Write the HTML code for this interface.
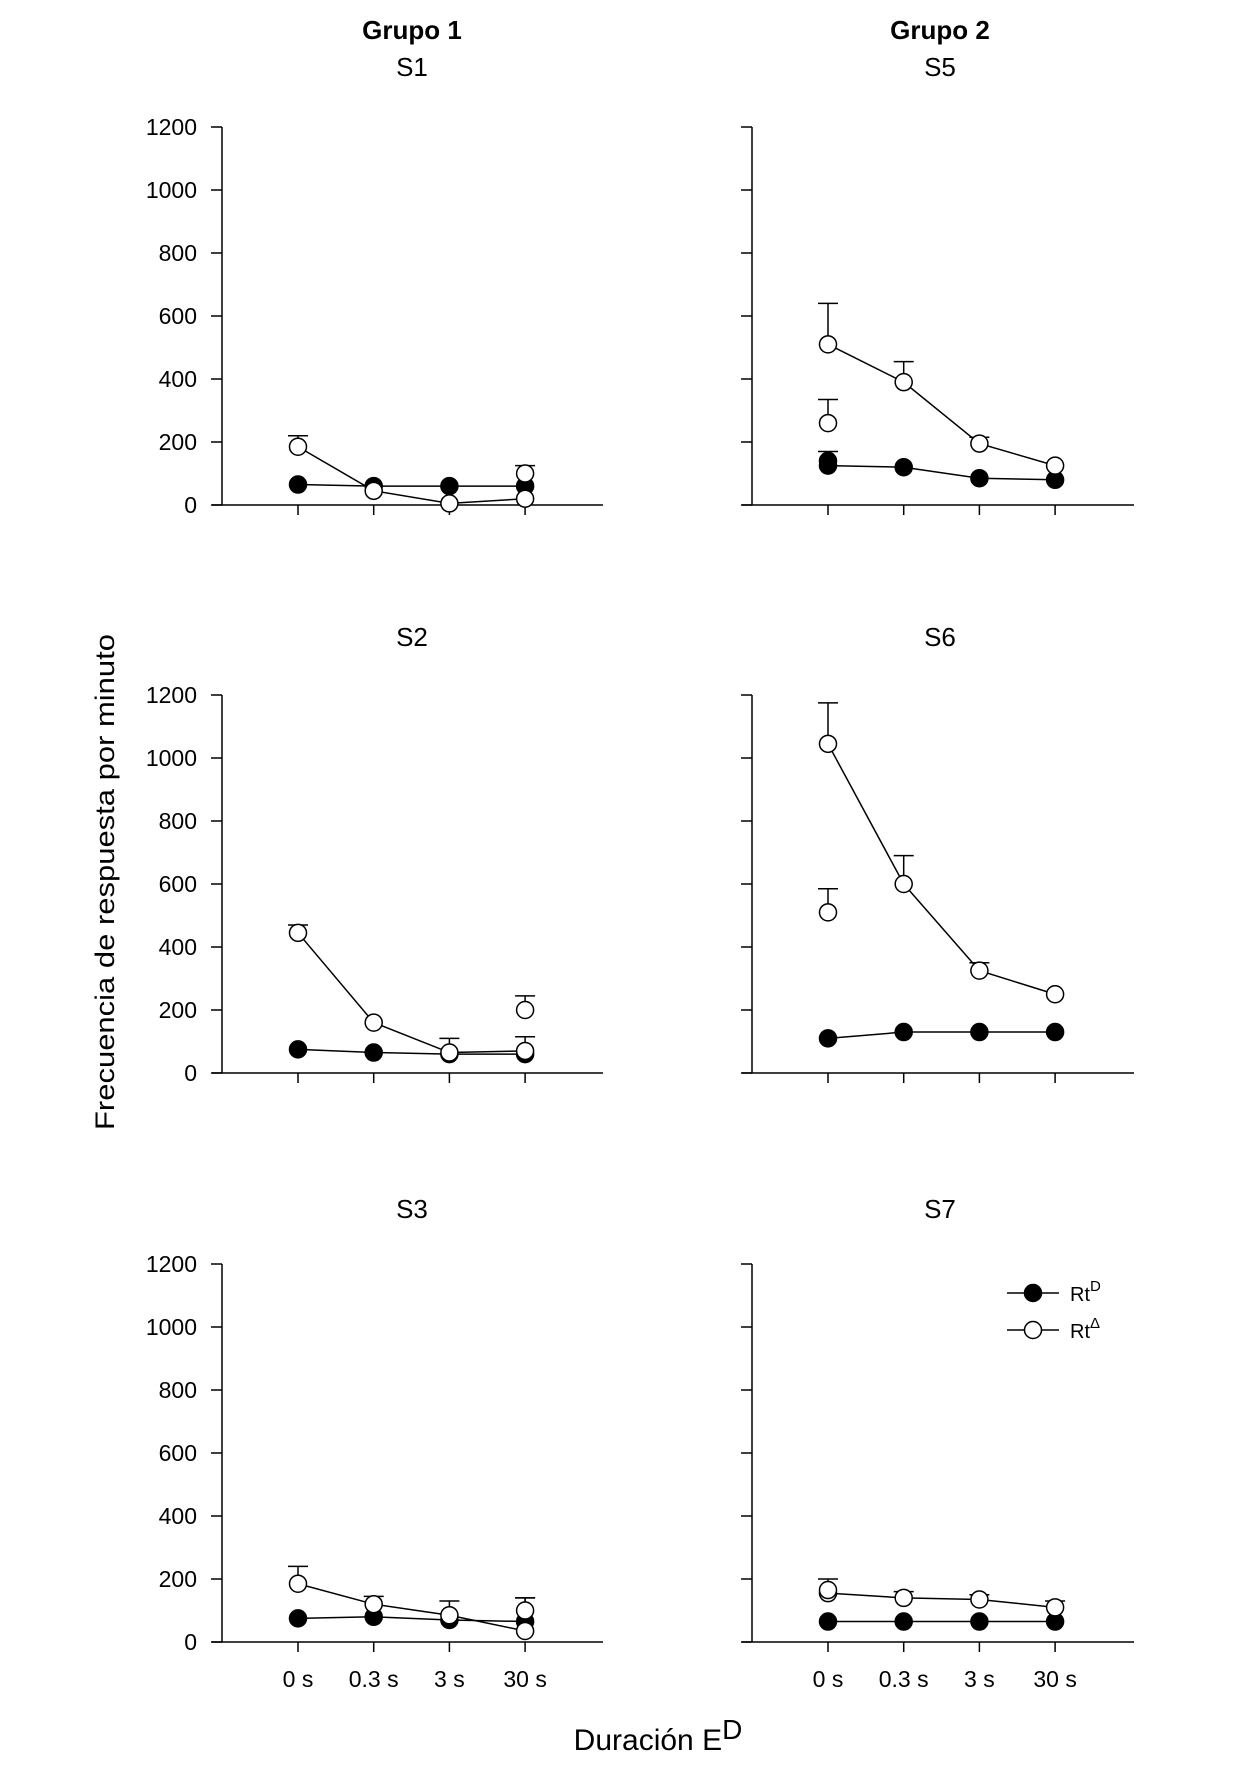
<!DOCTYPE html>
<html><head><meta charset="utf-8"><style>
html,body{margin:0;padding:0;background:#fff;}
svg{display:block;font-family:"Liberation Sans",Arial,sans-serif;}
</style></head><body>
<svg id="chart" width="1245" height="1766" viewBox="0 0 1245 1766" xmlns="http://www.w3.org/2000/svg">
<text x="412" y="39" font-size="26" font-weight="bold" text-anchor="middle">Grupo 1</text>
<text x="940" y="39" font-size="26" font-weight="bold" text-anchor="middle">Grupo 2</text>
<text transform="translate(114,882) rotate(-90)" font-size="27" text-anchor="middle" textLength="496" lengthAdjust="spacingAndGlyphs">Frecuencia de respuesta por minuto</text>
<text x="658" y="1750" font-size="30" text-anchor="middle">Duración E<tspan dy="-11" font-size="28">D</tspan></text>
<g id="plots"></g>
</svg>
<script>
const categories = ["0 s","0.3 s","3 s","30 s"];
const yTicks = [0,200,400,600,800,1000,1200];
const panelNames = ["S1","S5","S2","S6","S3","S7"];
// filled series (RtD)
const s1Filled=[65,60,60,60], s5Filled=[125,120,85,80], s2Filled=[75,65,60,60], s6Filled=[110,130,130,130], s3Filled=[75,80,70,65], s7Filled=[65,65,65,65];
// open series (RtΔ)
const s1Open=[185,45,5,20], s5Open=[510,390,195,125], s2Open=[445,160,65,70], s6Open=[1045,600,325,250], s3Open=[185,120,85,35], s7Open=[155,140,135,110];
// error bar tops for open series (null = none)
const s1OpenErr=[220,null,null,null], s5OpenErr=[640,455,215,null], s2OpenErr=[470,null,110,115], s6OpenErr=[1175,690,350,null], s3OpenErr=[240,145,130,140], s7OpenErr=[200,160,150,130];
// extra isolated open points: [categoryIndex, value, errTop]
const s1Extra=[3,100,125], s5Extra=[0,260,335], s2Extra=[3,200,245], s6Extra=[0,510,585], s3Extra=[3,100,140], s7Extra=[0,165,null];
const s5FilledExtra=[0,140,170];

const filledAll=[s1Filled,s5Filled,s2Filled,s6Filled,s3Filled,s7Filled];
const openAll=[s1Open,s5Open,s2Open,s6Open,s3Open,s7Open];
const errAll=[s1OpenErr,s5OpenErr,s2OpenErr,s6OpenErr,s3OpenErr,s7OpenErr];
const extraAll=[s1Extra,s5Extra,s2Extra,s6Extra,s3Extra,s7Extra];

const NS="http://www.w3.org/2000/svg";
const root=document.getElementById('plots');
function mk(tag,attrs,parent){const e=document.createElementNS(NS,tag);for(const k in attrs)e.setAttribute(k,attrs[k]);(parent||root).appendChild(e);return e;}

const colX=[222,752], rowY0=[505,1073,1642], yH=378;
const catX0=[298,828], catStep=75.7;
const titleX=[412,940], titleY=[76,646,1218];

for(let p=0;p<6;p++){
  const col=p%2,row=Math.floor(p/2);
  const ax=colX[col], y0=rowY0[row];
  const y=v=>y0-v/1200*yH;
  const x=i=>catX0[col]+i*catStep;
  const g=mk('g',{});
  
  
  const t=mk('text',{x:titleX[col],y:titleY[row],'font-size':26,'text-anchor':'middle'},g);
  t.textContent=panelNames[p];
  
  
  const ya=mk('line',{x1:ax,y1:y(1200),x2:ax,y2:y0,stroke:'#000','stroke-width':1.5},g);
  
  
  const xa=mk('line',{x1:ax-10,y1:y0,x2:ax+(col?382:381),y2:y0,stroke:'#000','stroke-width':1.5},g);
  
  
  yTicks.forEach(v=>{
    mk('line',{x1:ax-11,y1:y(v),x2:ax,y2:y(v),stroke:'#000','stroke-width':1.5},g);
    if(col===0){
      const tl=mk('text',{x:197,y:y(v)+8,'font-size':23,'text-anchor':'end'},g);
      tl.textContent=v;
      
      
    }
  });
  categories.forEach((c,i)=>{
    mk('line',{x1:x(i),y1:y0,x2:x(i),y2:y0+10,stroke:'#000','stroke-width':1.5},g);
    if(row===2){
      const tl=mk('text',{x:x(i),y:y0+45,'font-size':23,'text-anchor':'middle'},g);
      tl.textContent=c;
      
      
    }
  });
  const eb=(xi,v,top)=>{ if(top==null)return;
    mk('line',{x1:xi,y1:y(v),x2:xi,y2:y(top),stroke:'#000','stroke-width':1.5},g);
    mk('line',{x1:xi-10,y1:y(top),x2:xi+10,y2:y(top),stroke:'#000','stroke-width':1.5},g);
  };
  const F=filledAll[p],O=openAll[p],E=errAll[p],X=extraAll[p];
  O.forEach((v,i)=>eb(x(i),v,E[i]));
  eb(x(X[0]),X[1],X[2]);
  if(p===1) eb(x(s5FilledExtra[0]),s5FilledExtra[1],s5FilledExtra[2]);
  const lf=mk('polyline',{points:F.map((v,i)=>x(i)+','+y(v)).join(' '),fill:'none',stroke:'#000','stroke-width':1.5},g);
  
  
  const lo=mk('polyline',{points:O.map((v,i)=>x(i)+','+y(v)).join(' '),fill:'none',stroke:'#000','stroke-width':1.5},g);
  
  
  if(p===1){const c=mk('circle',{cx:x(s5FilledExtra[0]),cy:y(s5FilledExtra[1]),r:8.5,fill:'#000',stroke:'#000','stroke-width':1.5},g);
    
    }
  F.forEach((v,i)=>{const c=mk('circle',{cx:x(i),cy:y(v),r:8.5,fill:'#000',stroke:'#000','stroke-width':1.5},g);
    
    });
  O.forEach((v,i)=>{const c=mk('circle',{cx:x(i),cy:y(v),r:8.5,fill:'#fff',stroke:'#000','stroke-width':1.5},g);
    
    });
  const ce=mk('circle',{cx:x(X[0]),cy:y(X[1]),r:8.5,fill:'#fff',stroke:'#000','stroke-width':1.5},g);
  
  
}
const lg=mk('g',{});


[[1293,'#000','D'],[1330,'#fff','Δ']].forEach(([ly,fill,sup])=>{
  const e=mk('g',{},lg);
  
  
  mk('line',{x1:1007,y1:ly,x2:1059,y2:ly,stroke:'#000','stroke-width':1.5},e);
  mk('circle',{cx:1033,cy:ly,r:8.5,fill:fill,stroke:'#000','stroke-width':1.5},e);
  const t=mk('text',{x:1070,y:ly+8,'font-size':20},e);
  t.textContent='Rt';
  const s=mk('tspan',{dy:-10,'font-size':15},t);
  s.textContent=sup;
});
</script>
</body></html>
